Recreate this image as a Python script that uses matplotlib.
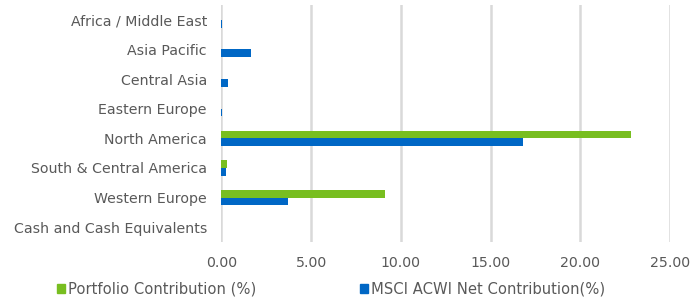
import matplotlib.pyplot as plt
import numpy as np
from matplotlib.patches import Patch

regions = ["Africa / Middle East", "Asia Pacific", "Central Asia", "Eastern Europe",
           "North America", "South & Central America", "Western Europe",
           "Cash and Cash Equivalents"]
portfolio = [0.0, 0.0, 0.0, 0.0, 22.8, 0.3, 9.13, 0.0]
msci_acwi = [0.02, 1.65, 0.35, 0.02, 16.8, 0.25, 3.71, 0.0]

xticks = [0, 5, 10, 15, 20, 25]
legend_labels = ["Portfolio Contribution (%)", "MSCI ACWI Net Contribution(%)"]

green = "#78be20"
blue = "#0067c5"
text_col = "#595959"

plt.rcParams["font.family"] = ["DejaVu Sans"]

fig = plt.figure(figsize=(6.93, 2.97), dpi=100)
ax = fig.add_axes([0.3196, 0.185, 0.6472, 0.798])

y = np.arange(len(regions))
h = 0.26
ax.barh(y - h / 2, portfolio, height=h, color=green, zorder=3)
ax.barh(y + h / 2, msci_acwi, height=h, color=blue, zorder=3)

ax.set_ylim(len(regions) - 0.5, -0.5)
ax.set_xlim(0, 25)
ax.set_yticks(y)
ax.set_yticklabels(regions, fontsize=10.2, color=text_col)
ax.set_xticks(xticks)
ax.set_xticklabels([f"{v:.2f}" for v in xticks], fontsize=10.2, color=text_col)
ax.tick_params(axis="both", length=0)
ax.tick_params(axis="x", pad=10)
ax.tick_params(axis="y", pad=10.5)

ax.grid(axis="x", color="#d9d9d9", linewidth=1.8, zorder=0)
for s in ax.spines.values():
    s.set_visible(False)

# two separate legend entries, placed like the original
for color, label, x0 in [(green, legend_labels[0], 57), (blue, legend_labels[1], 360)]:
    fig.legend(handles=[Patch(color=color, label=label)], loc="center left",
               bbox_to_anchor=(x0 / 693, 1 - 289 / 297), frameon=False,
               fontsize=10.6, labelcolor=text_col, handlelength=0.55,
               handleheight=0.55, handletextpad=0.2, borderpad=0, borderaxespad=0)

fig.savefig("out.png", dpi=100)
